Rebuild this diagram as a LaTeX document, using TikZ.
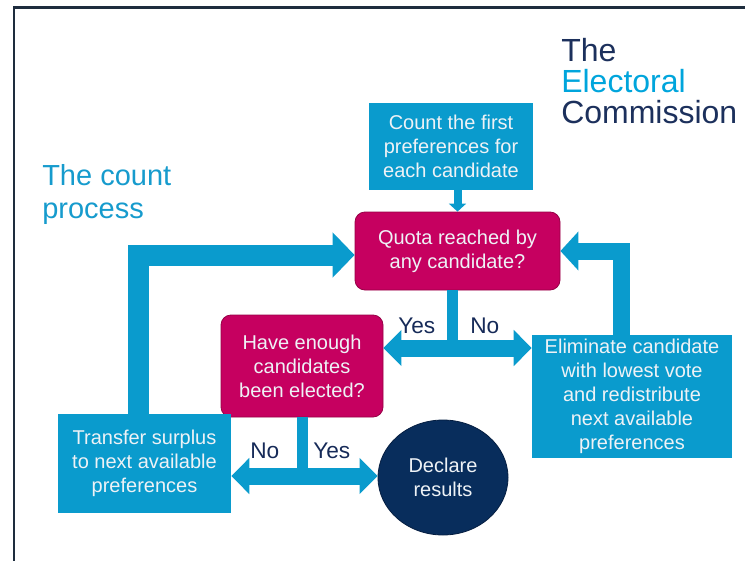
\documentclass[tikz,border=0pt]{standalone}
\usepackage{fontspec}
\setmainfont{Liberation Sans}
\usetikzlibrary{arrows.meta,shapes.geometric}
\definecolor{ecCyan}{RGB}{10,155,205}
\definecolor{ecMag}{RGB}{198,0,96}
\definecolor{ecMagD}{RGB}{150,0,70}
\definecolor{ecNavy}{RGB}{8,45,92}
\definecolor{ecNavyD}{RGB}{5,30,65}
\definecolor{ecText}{RGB}{238,242,246}
\definecolor{ecLabel}{RGB}{22,42,88}
\definecolor{ecTitle}{RGB}{22,155,205}
\definecolor{ecLogoC}{RGB}{0,165,220}
\definecolor{ecLogoD}{RGB}{28,48,92}
\definecolor{ecFrame}{RGB}{30,45,62}
\begin{document}
\begin{tikzpicture}[x=0.75pt,y=-0.75pt,
  boxtext/.style={text=ecText,align=center,inner sep=0pt,font=\fontsize{15}{18}\selectfont},
  cyanbox/.style={boxtext,fill=ecCyan,rectangle},
  magbox/.style={boxtext,fill=ecMag,draw=ecMagD,line width=0.6pt,rounded corners=7.5pt,rectangle},
  endnode/.style={boxtext,fill=ecNavy,draw=ecNavyD,line width=0.6pt,ellipse},
  lbl/.style={text=ecLabel,inner sep=0pt,anchor=base west,font=\fontsize{17}{20}\selectfont},
  loopL/.style={ecCyan,line width=15.75pt,line join=miter,-{Triangle[length=16.5pt,width=33pt]}},
  loopR/.style={ecCyan,line width=12.75pt,line join=miter,-{Triangle[length=13.5pt,width=28.5pt]}},
  split/.style={ecCyan,line width=12.75pt,-{Triangle[length=13.5pt,width=26.25pt]}},
  stem/.style={ecCyan,line width=8.25pt},
  thin/.style={ecCyan,line width=6pt,-{Triangle[length=6pt,width=12.75pt]}}
]
\useasboundingbox (0,0) rectangle (745,560);
% frame
\draw[ecFrame,line width=1.6pt] (14.3,570) -- (14.3,7.5) -- (760,7.5);

% titles
\node[anchor=north west,inner sep=0pt,text=ecTitle,align=left,
      font=\fontsize{21.75}{24.75}\selectfont] (title) at (42,164) {The count\\process};
\node[anchor=north west,inner sep=0pt,align=left,
      font=\fontsize{24}{23}\selectfont] (logo) at (561,38.5)
      {\textcolor{ecLogoD}{The}\\\textcolor{ecLogoC}{Electoral}\\\textcolor{ecLogoD}{Commission}};

% boxes
\node[cyanbox,minimum width=123pt,minimum height=65.25pt] (count) at (451,146.5)
  {Count the first\\preferences for\\each candidate};
\node[magbox,minimum width=153.75pt,minimum height=58.5pt] (quota) at (457.5,251)
  {Quota reached by\\any candidate?};
\node[magbox,minimum width=121.5pt,minimum height=76.5pt] (have) at (302,366)
  {Have enough\\candidates\\been elected?};
\node[cyanbox,minimum width=150pt,minimum height=92.25pt] (elim) at (632,396.5)
  {Eliminate candidate\\with lowest vote\\and redistribute\\next available\\preferences};
\node[cyanbox,minimum width=129.75pt,minimum height=74.25pt] (transfer) at (144.5,463.5)
  {Transfer surplus\\to next available\\preferences};
\node[endnode,minimum width=97.5pt,minimum height=86.25pt] (declare) at (443,477.5)
  {Declare\\results};

% split points
\coordinate (s1) at (452,348);
\coordinate (s2) at (302,476);
\coordinate (cL) at (138,255);
\coordinate (cR) at (621,251);

% connectors
\draw[thin] (count.south -| quota.north) -- (quota.north);
\draw[stem] (s1 |- quota.south) -- (s1);
\draw[split] (s1) -- (s1 -| have.east);
\draw[split] (s1) -- (s1 -| elim.west);
\draw[stem] (have.south) -- (s2);
\draw[split] (s2) -- (s2 -| transfer.east);
\draw[split] (s2) -- (s2 -| declare.west);
\draw[loopL] (cL |- transfer.north) -- (cL) -- (cL -| quota.west);
\draw[loopR] (cR |- elim.north) -- (cR) -- (cR -| quota.east);

% labels
\node[lbl] (yes1) at (398,333) {Yes};
\node[lbl] (no1) at (470,333) {No};
\node[lbl] (no2) at (250,458) {No};
\node[lbl] (yes2) at (313,458) {Yes};
\end{tikzpicture}
\end{document}
